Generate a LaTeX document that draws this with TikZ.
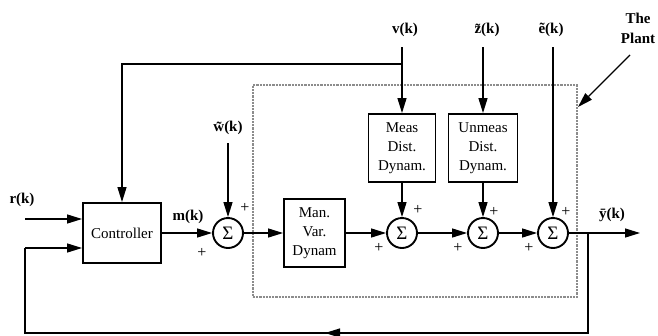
\documentclass[tikz,border=0pt]{standalone}
\usepackage{fontspec}
\setmainfont{Liberation Serif}
\usetikzlibrary{arrows.meta,calc}
\definecolor{PlantGray}{HTML}{8C8C8C}
\tikzset{
  blockbox/.style={draw,line width=1.9pt,align=center,inner sep=1pt,
    font=\fontsize{15}{19}\selectfont},
  sumnode/.style={circle,draw,line width=1.9pt,minimum size=30pt,inner sep=0pt,
    font=\fontsize{19}{19}\selectfont},
  plantbox/.style={draw=PlantGray,densely dotted,line width=2.2pt,inner sep=0pt},
  sig/.style={font=\bfseries\fontsize{15}{20}\selectfont},
  plus/.style={font=\fontsize{16}{16}\selectfont},
  wire/.style={line width=1.3pt},
  flow/.style={line width=1.3pt,-{Triangle[length=15pt,width=9pt]}}
}
\begin{document}
\begin{tikzpicture}[x=1pt,y=-1pt]
  \useasboundingbox (0,0) rectangle (658,335);

  % the plant
  \node[plantbox,minimum width=324pt,minimum height=212pt] (plant) at (415,191) {};

  \node[blockbox,minimum width=78pt,minimum height=60pt] (ctrl) at (122,233) {Controller};
  \node[blockbox,minimum width=61pt,minimum height=68pt] (man) at (314.5,233) {Man.\\Var.\\Dynam};
  \node[blockbox,minimum width=67pt,minimum height=68pt] (meas) at (402,148) {Meas\\Dist.\\Dynam.};
  \node[blockbox,minimum width=69pt,minimum height=68pt] (unmeas) at (483,148) {Unmeas\\Dist.\\Dynam.};

  \node[sumnode] (s1) at (228,233) {Σ};
  \node[sumnode] (s2) at (402,233) {Σ};
  \node[sumnode] (s3) at (483,233) {Σ};
  \node[sumnode] (s4) at (553,233) {Σ};

  \node[sig] (rlab) at (22,200) {r(k)};
  \node[sig] (mlab) at (188,217) {m(k)};
  \node[sig] (wlab) at (228,128) {\~{w}(k)};
  \node[sig] (vlab) at (405,30) {v(k)};
  \node[sig] (zlab) at (487,30) {\~{z}(k)};
  \node[sig] (elab) at (551,30) {\~{e}(k)};
  \node[sig] (ylab) at (612,215) {\={y}(k)};
  \node[sig,align=center] (plantlab) at (638,28) {The\\Plant};

  \node[plus] (p1a) at (202,253) {+};
  \node[plus] (p1b) at (245,208) {+};
  \node[plus] (p2a) at (379,248) {+};
  \node[plus] (p2b) at (418,210) {+};
  \node[plus] (p3a) at (458,248) {+};
  \node[plus] (p3b) at (494,212) {+};
  \node[plus] (p4a) at (529,248) {+};
  \node[plus] (p4b) at (566,212) {+};

  \coordinate (rin) at (25,219);
  \coordinate (fbin) at (25,248);
  \coordinate (fbl) at (25,333);
  \coordinate (fbr) at (588,333);
  \coordinate (fbmid) at (325,333);
  \coordinate (ybr) at (588,233);
  \coordinate (yout) at (640,233);
  \coordinate (vtop) at (402,47);
  \coordinate (vbr) at (402,64);
  \coordinate (ztop) at (483,47);
  \coordinate (etop) at (553,47);
  \coordinate (wtop) at (228,143);
  \coordinate (plantarr) at (630,55);
  \coordinate (plantedge) at (578,107);

  \draw[flow] (rin) -- (ctrl.west |- rin);
  \draw[flow] (fbin) -- (ctrl.west |- fbin);
  \draw[flow] (ctrl) -- (s1);
  \draw[flow] (s1) -- (man);
  \draw[flow] (man) -- (s2);
  \draw[flow] (s2) -- (s3);
  \draw[flow] (s3) -- (s4);
  \draw[flow] (s4) -- (yout);
  \draw[flow] (meas) -- (s2);
  \draw[flow] (unmeas) -- (s3);

  \draw[flow] (vtop) -- (meas);
  \draw[flow] (vbr) -| (ctrl);
  \draw[flow] (ztop) -- (unmeas);
  \draw[flow] (etop) -- (s4);
  \draw[flow] (wtop) -- (s1);

  % feedback
  \draw[wire] (ybr) -- (fbr) -- (fbl) -- (fbin);
  \draw[flow] (fbr) -- (fbmid);

  \draw[flow] (plantarr) -- (plantedge);
\end{tikzpicture}
\end{document}
